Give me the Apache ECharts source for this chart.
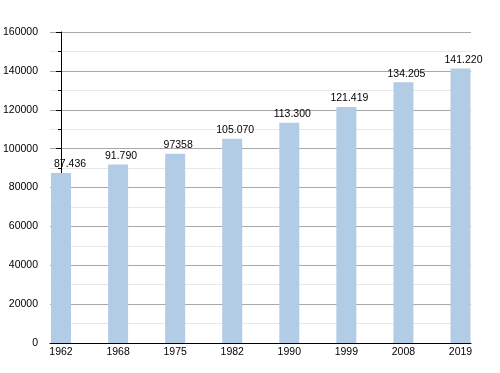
<!DOCTYPE html>
<html><head><meta charset="utf-8">
<script src="https://cdn.jsdelivr.net/npm/echarts@6/dist/echarts.min.js"></script>
<style>html,body{margin:0;padding:0;background:#fff}#c{width:500px;height:373px}</style>
</head><body><div id="c"></div>
<script>
const categories = ['1962','1968','1975','1982','1990','1999','2008','2019'];
const values = [87436, 91790, 97358, 105070, 113300, 121419, 134205, 141220];
const valueLabels = ['87.436','91.790','97358','105.070','113.300','121.419','134.205','141.220'];
const yTicks = [0, 20000, 40000, 60000, 80000, 100000, 120000, 140000, 160000];

const font = "'Liberation Sans', Arial, Helvetica, sans-serif";
const chart = echarts.init(document.getElementById('c'), null, {renderer: 'canvas'});
const data = values.map((v, i) => ({
  value: [i, v],
  label: {formatter: valueLabels[i], offset: [i === 0 ? 9 : 3, 0]}
}));
chart.setOption({
  animation: false,
  grid: {left: 50, right: 29, top: 32, bottom: 30, containLabel: false, outerBoundsMode: 'none'},
  xAxis: {
    type: 'value', min: -0.193, max: 7.184,
    axisLine: {show: true, lineStyle: {color: '#000', width: 1}},
    axisTick: {show: false},
    splitLine: {show: false},
    axisLabel: {
      customValues: categories.map((c, i) => i),
      formatter: v => categories[Math.round(v)],
      color: '#000', fontSize: 10.5, fontFamily: font, margin: 4,
      hideOverlap: false
    }
  },
  yAxis: {
    type: 'value', min: 0, max: 160000, interval: 20000,
    axisLine: {show: true, lineStyle: {color: '#000', width: 1}},
    axisTick: {show: true, length: 5, lineStyle: {color: '#000'}},
    minorTick: {show: true, splitNumber: 2, length: 3, lineStyle: {color: '#000'}},
    splitLine: {show: true, lineStyle: {color: '#a8a8a8', width: 1}},
    minorSplitLine: {show: true, lineStyle: {color: '#e8e8e8', width: 1}},
    axisLabel: {
      customValues: yTicks,
      formatter: v => String(v),
      color: '#000', fontSize: 10.5, fontFamily: font, margin: 12
    }
  },
  series: [{
    type: 'bar',
    barWidth: 20,
    data: data,
    itemStyle: {color: '#b3cce6'},
    label: {show: true, position: 'top', distance: 3, color: '#000', fontSize: 10.5, fontFamily: font}
  }]
});
</script></body></html>
